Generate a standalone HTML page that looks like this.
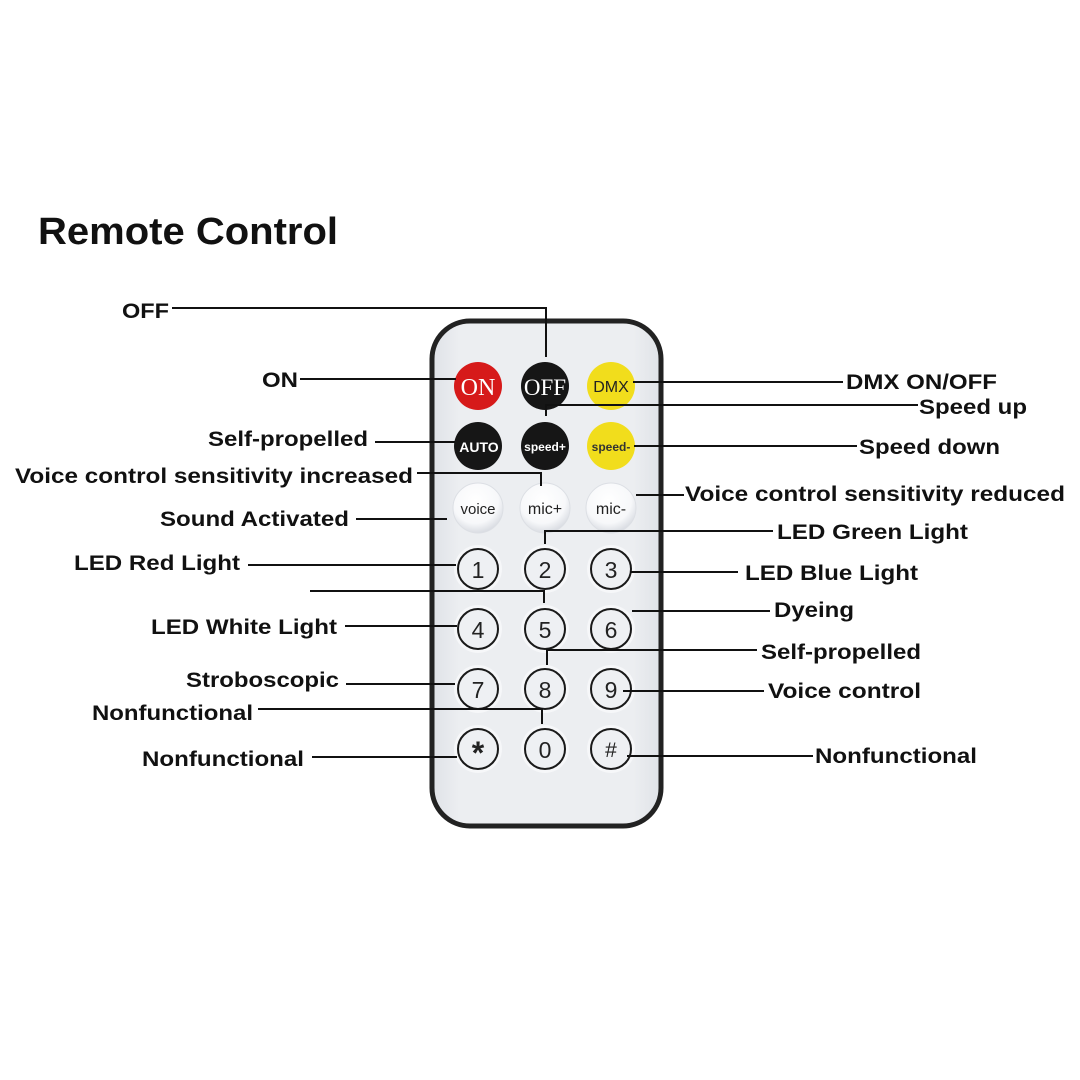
<!DOCTYPE html>
<html><head><meta charset="utf-8"><style>
html,body{margin:0;padding:0;background:#fff;width:1080px;height:1080px;overflow:hidden}
svg{display:block}
.l{font-family:"Liberation Sans",Arial,sans-serif;font-weight:bold;font-size:21px;fill:#111}
.b{font-family:"Liberation Sans",Arial,sans-serif;fill:#222}
</style></head><body>
<svg width="1080" height="1080" viewBox="0 0 1080 1080" xmlns="http://www.w3.org/2000/svg">
<defs>
<radialGradient id="w" cx="45%" cy="35%" r="65%"><stop offset="0" stop-color="#ffffff"/><stop offset="0.7" stop-color="#f7f8fa"/><stop offset="1" stop-color="#d9dce2"/></radialGradient>
<linearGradient id="body" x1="0" x2="1"><stop offset="0" stop-color="#dfe2e7"/><stop offset="0.12" stop-color="#eceef1"/><stop offset="0.88" stop-color="#eceef1"/><stop offset="1" stop-color="#dfe2e7"/></linearGradient>
</defs>
<text x="38" y="244" font-family="Liberation Sans,Arial,sans-serif" font-weight="bold" font-size="38" fill="#111" textLength="300" lengthAdjust="spacingAndGlyphs">Remote Control</text>

<rect x="432" y="321" width="229" height="505" rx="38" fill="url(#body)" stroke="#222" stroke-width="5"/>

<circle cx="478" cy="386" r="24" fill="#d61a1a"/>
<text x="478" y="395" text-anchor="middle" font-family="Liberation Serif,serif" font-size="24" fill="#fff">ON</text>
<circle cx="545" cy="386" r="24" fill="#161616"/>
<text x="545" y="395" text-anchor="middle" font-family="Liberation Serif,serif" font-size="23" fill="#fff">OFF</text>
<circle cx="611" cy="386" r="24" fill="#f1dd1c"/>
<text x="611" y="392" text-anchor="middle" class="b" font-size="16">DMX</text>

<circle cx="478" cy="446" r="24" fill="#161616"/>
<text x="479" y="452" text-anchor="middle" font-family="Liberation Sans,Arial,sans-serif" font-weight="bold" font-size="14" fill="#fff">AUTO</text>
<circle cx="545" cy="446" r="24" fill="#161616"/>
<text x="545" y="451" text-anchor="middle" font-family="Liberation Sans,Arial,sans-serif" font-weight="bold" font-size="12" fill="#fff">speed+</text>
<circle cx="611" cy="446" r="24" fill="#f1dd1c"/>
<text x="611" y="451" text-anchor="middle" font-family="Liberation Sans,Arial,sans-serif" font-weight="bold" font-size="12" fill="#333">speed-</text>

<circle cx="478" cy="508" r="25" fill="url(#w)" stroke="#dcdfe4" stroke-width="1"/>
<text x="478" y="514" text-anchor="middle" class="b" font-size="15">voice</text>
<circle cx="545" cy="508" r="25" fill="url(#w)" stroke="#dcdfe4" stroke-width="1"/>
<text x="545" y="514" text-anchor="middle" class="b" font-size="16">mic+</text>
<circle cx="611" cy="508" r="25" fill="url(#w)" stroke="#dcdfe4" stroke-width="1"/>
<text x="611" y="514" text-anchor="middle" class="b" font-size="16">mic-</text>

<g fill="#f6f7f9">
<circle cx="478" cy="569" r="24"/><circle cx="545" cy="569" r="24"/><circle cx="611" cy="569" r="24"/>
<circle cx="478" cy="629" r="24"/><circle cx="545" cy="629" r="24"/><circle cx="611" cy="629" r="24"/>
<circle cx="478" cy="689" r="24"/><circle cx="545" cy="689" r="24"/><circle cx="611" cy="689" r="24"/>
<circle cx="478" cy="749" r="24"/><circle cx="545" cy="749" r="24"/><circle cx="611" cy="749" r="24"/>
</g>
<g fill="#eef0f3" stroke="#1a1a1a" stroke-width="2">
<circle cx="478" cy="569" r="20"/><circle cx="545" cy="569" r="20"/><circle cx="611" cy="569" r="20"/>
<circle cx="478" cy="629" r="20"/><circle cx="545" cy="629" r="20"/><circle cx="611" cy="629" r="20"/>
<circle cx="478" cy="689" r="20"/><circle cx="545" cy="689" r="20"/><circle cx="611" cy="689" r="20"/>
<circle cx="478" cy="749" r="20"/><circle cx="545" cy="749" r="20"/><circle cx="611" cy="749" r="20"/>
</g>
<g class="b" font-size="23" text-anchor="middle">
<text x="478" y="578">1</text><text x="545" y="578">2</text><text x="611" y="578">3</text>
<text x="478" y="638">4</text><text x="545" y="638">5</text><text x="611" y="638">6</text>
<text x="478" y="698">7</text><text x="545" y="698">8</text><text x="611" y="698">9</text>
<text x="478" y="764" font-size="32" font-weight="bold">*</text><text x="545" y="758">0</text><text x="611" y="757" font-size="21">#</text>
</g>

<g stroke="#111" stroke-width="2" fill="none">
<polyline points="172,308 546,308 546,357"/>
<line x1="300" y1="379" x2="456" y2="379"/>
<line x1="633" y1="382" x2="843" y2="382"/>
<polyline points="546,416 546,405 918,405"/>
<line x1="375" y1="442" x2="455" y2="442"/>
<line x1="634" y1="446" x2="857" y2="446"/>
<polyline points="417,473 541,473 541,486"/>
<line x1="356" y1="519" x2="447" y2="519"/>
<line x1="636" y1="495" x2="684" y2="495"/>
<polyline points="545,544 545,531 773,531"/>
<line x1="248" y1="565" x2="456" y2="565"/>
<line x1="630" y1="572" x2="738" y2="572"/>
<polyline points="310,591 544,591 544,603"/>
<line x1="632" y1="611" x2="770" y2="611"/>
<line x1="345" y1="626" x2="457" y2="626"/>
<polyline points="547,665 547,650 757,650"/>
<line x1="346" y1="684" x2="455" y2="684"/>
<line x1="623" y1="691" x2="764" y2="691"/>
<polyline points="258,709 542,709 542,724"/>
<line x1="312" y1="757" x2="457" y2="757"/>
<line x1="627" y1="756" x2="813" y2="756"/>
</g>

<text class="l" x="122" y="318" textLength="47" lengthAdjust="spacingAndGlyphs">OFF</text>
<text class="l" x="262" y="387" textLength="36" lengthAdjust="spacingAndGlyphs">ON</text>
<text class="l" x="846" y="389" textLength="151" lengthAdjust="spacingAndGlyphs">DMX ON/OFF</text>
<text class="l" x="919" y="414" textLength="108" lengthAdjust="spacingAndGlyphs">Speed up</text>
<text class="l" x="208" y="446" textLength="160" lengthAdjust="spacingAndGlyphs">Self-propelled</text>
<text class="l" x="859" y="454" textLength="141" lengthAdjust="spacingAndGlyphs">Speed down</text>
<text class="l" x="15" y="483" textLength="398" lengthAdjust="spacingAndGlyphs">Voice control sensitivity increased</text>
<text class="l" x="160" y="526" textLength="189" lengthAdjust="spacingAndGlyphs">Sound Activated</text>
<text class="l" x="685" y="501" textLength="380" lengthAdjust="spacingAndGlyphs">Voice control sensitivity reduced</text>
<text class="l" x="777" y="539" textLength="191" lengthAdjust="spacingAndGlyphs">LED Green Light</text>
<text class="l" x="74" y="570" textLength="166" lengthAdjust="spacingAndGlyphs">LED Red Light</text>
<text class="l" x="745" y="580" textLength="173" lengthAdjust="spacingAndGlyphs">LED Blue Light</text>
<text class="l" x="774" y="617" textLength="80" lengthAdjust="spacingAndGlyphs">Dyeing</text>
<text class="l" x="151" y="634" textLength="186" lengthAdjust="spacingAndGlyphs">LED White Light</text>
<text class="l" x="761" y="659" textLength="160" lengthAdjust="spacingAndGlyphs">Self-propelled</text>
<text class="l" x="186" y="687" textLength="153" lengthAdjust="spacingAndGlyphs">Stroboscopic</text>
<text class="l" x="768" y="698" textLength="153" lengthAdjust="spacingAndGlyphs">Voice control</text>
<text class="l" x="92" y="720" textLength="161" lengthAdjust="spacingAndGlyphs">Nonfunctional</text>
<text class="l" x="142" y="766" textLength="162" lengthAdjust="spacingAndGlyphs">Nonfunctional</text>
<text class="l" x="815" y="763" textLength="162" lengthAdjust="spacingAndGlyphs">Nonfunctional</text>
</svg>
</body></html>
